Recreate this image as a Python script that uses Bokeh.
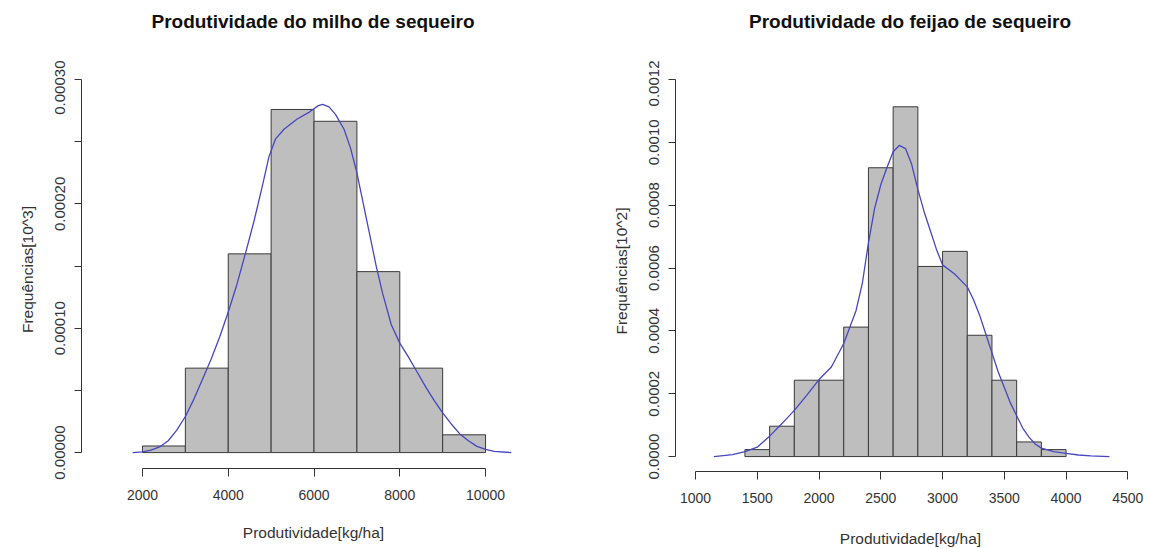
from bokeh.plotting import figure
from bokeh.layouts import row, column
from bokeh.models import Range1d, FixedTicker, PrintfTickFormatter, Div
from bokeh.embed import file_html
from bokeh.resources import INLINE

# ---- Data: milho (corn) ----
milho_edges = [2000, 3000, 4000, 5000, 6000, 7000, 8000, 9000, 10000]
milho_density = [0.0000053, 0.0000679, 0.0001598, 0.0002759, 0.0002664,
                 0.0001455, 0.0000679, 0.0000143]
milho_kde_x = [1770, 2000, 2200, 2400, 2600, 2800, 3000, 3200, 3400, 3600,
               3800, 4000, 4200, 4400, 4600, 4800, 4950, 5100, 5300, 5600,
               5900, 6100, 6200, 6350, 6500, 6700, 6850, 7000, 7150, 7300,
               7450, 7600, 7800, 8000, 8200, 8400, 8600, 8800, 9000, 9200,
               9400, 9600, 9800, 10000, 10200, 10600]
milho_kde_y = [0.0, 0.0000005, 0.000002, 0.0000045, 0.0000095, 0.000018,
               0.000029, 0.000043, 0.000059, 0.000075, 0.000093, 0.000113,
               0.000135, 0.00016, 0.000186, 0.000215, 0.000238, 0.000252,
               0.00026, 0.000268, 0.000274, 0.000279, 0.00028, 0.000278,
               0.000272, 0.00026, 0.000245, 0.000225, 0.0002, 0.000175,
               0.00015, 0.000128, 0.000103, 0.000088, 0.000077, 0.000065,
               0.000053, 0.000042, 0.000032, 0.000023, 0.000015, 0.0000095,
               0.000005, 0.0000025, 0.000001, 0.0]
milho_xticks = [2000, 4000, 6000, 8000, 10000]
milho_yticks = [0.0, 0.0001, 0.0002, 0.0003]
milho_yminor = [0.00005, 0.00015, 0.00025]

# ---- Data: feijao (beans) ----
feijao_edges = [1400, 1600, 1800, 2000, 2200, 2400, 2600, 2800, 3000, 3200,
                3400, 3600, 3800, 4000]
feijao_density = [0.0000222, 0.0000966, 0.000243, 0.000243, 0.000412,
                  0.000919, 0.001113, 0.000605, 0.000653, 0.000386,
                  0.000243, 0.0000466, 0.0000222]
feijao_kde_x = [1149, 1300, 1400, 1500, 1600, 1700, 1800, 1900, 2000, 2100,
                2200, 2300, 2350, 2400, 2450, 2500, 2550, 2600, 2650, 2700,
                2750, 2800, 2850, 2900, 2950, 3000, 3050, 3100, 3150, 3200,
                3250, 3300, 3350, 3400, 3450, 3500, 3550, 3600, 3650, 3700,
                3750, 3800, 3900, 4000, 4100, 4200, 4351]
feijao_kde_y = [0.0, 0.000006, 0.000016, 0.00003, 0.000065, 0.000105,
                0.000147, 0.000195, 0.000245, 0.000285, 0.00036, 0.000465,
                0.00055, 0.00068, 0.00079, 0.000865, 0.00092, 0.00097,
                0.00099, 0.00098, 0.00093, 0.00085, 0.00078, 0.00072,
                0.00066, 0.00061, 0.000595, 0.00058, 0.00056, 0.00054,
                0.0005, 0.00045, 0.00039, 0.00033, 0.00027, 0.00022,
                0.00017, 0.00013, 0.00009, 0.000062, 0.00004, 0.000027,
                0.000016, 0.00001, 0.000005, 0.000002, 0.0]
feijao_xticks = [1000, 1500, 2000, 2500, 3000, 3500, 4000, 4500]
feijao_yticks = [0.0, 0.0002, 0.0004, 0.0006, 0.0008, 0.0010, 0.0012]

FONT = "Liberation Sans"
TXT = "#333333"
BAR_FILL = "#BEBEBE"
BAR_LINE = "#3a3a3a"
CURVE = "#4646c0"
HEIGHT = 549
TITLE_H = 60       # height of the title strip
FIG_TOP = 10       # border above the frame inside the figure
FRAME_TOP = TITLE_H + FIG_TOP
TICK_TOP_Y = 79    # pixel row of the highest y tick


def make_panel(title, edges, dens, kx, ky, xticks, yticks, yminor, yfmt,
               xr, ylow, ylabel, width, mb_left, mb_right, mb_bottom,
               xlabel_standoff):
    bottom_px = HEIGHT - mb_bottom
    per_px = (yticks[-1] - ylow) / (bottom_px - TICK_TOP_Y)
    yend = yticks[-1] + (TICK_TOP_Y - FRAME_TOP) * per_px

    p = figure(width=width, height=HEIGHT - TITLE_H, x_range=Range1d(*xr),
               y_range=Range1d(ylow, yend), output_backend="svg",
               toolbar_location=None, min_border_left=mb_left,
               min_border_right=mb_right, min_border_top=FIG_TOP,
               min_border_bottom=mb_bottom)
    p.outline_line_color = None
    p.grid.visible = False
    p.background_fill_color = "white"
    p.border_fill_color = "white"

    p.quad(left=edges[:-1], right=edges[1:], bottom=0, top=dens,
           fill_color=BAR_FILL, line_color=BAR_LINE, line_width=1)
    p.line(kx, ky, line_color=CURVE, line_width=1.3)

    for ax in (p.xaxis[0], p.yaxis[0]):
        ax.axis_line_color = TXT
        ax.major_tick_line_color = TXT
        ax.minor_tick_line_color = TXT
        ax.major_tick_in = 0
        ax.minor_tick_in = 0
        ax.major_label_text_font = FONT
        ax.major_label_text_color = TXT
        ax.axis_label_text_font = FONT
        ax.axis_label_text_font_size = "15.5px"
        ax.axis_label_text_font_style = "normal"
        ax.axis_label_text_color = TXT

    xa = p.xaxis[0]
    xa.ticker = FixedTicker(ticks=xticks)
    xa.bounds = (xticks[0], xticks[-1])
    xa.major_tick_out = 8
    xa.minor_tick_out = 0
    xa.major_label_text_font_size = "14px"
    xa.major_label_standoff = 13
    xa.axis_label = "Produtividade[kg/ha]"
    xa.axis_label_standoff = xlabel_standoff

    ya = p.yaxis[0]
    ya.ticker = FixedTicker(ticks=yticks, minor_ticks=yminor)
    ya.bounds = (yticks[0], yticks[-1])
    ya.major_tick_out = 7
    ya.minor_tick_out = 7
    ya.major_label_text_font_size = "15px"
    ya.major_label_orientation = "vertical"
    ya.major_label_standoff = 9
    ya.formatter = PrintfTickFormatter(format=yfmt)
    ya.axis_label = ylabel
    ya.axis_label_standoff = 17

    frame_w = width - mb_left - mb_right
    head = Div(text=title, width=frame_w, height=TITLE_H,
               margin=(0, mb_right, 0, mb_left),
               styles={"font-family": FONT, "font-size": "19px",
                       "font-weight": "bold", "color": "#111111",
                       "text-align": "center", "line-height": "44px",
                       "white-space": "nowrap"})
    return column(head, p, spacing=0)


p1 = make_panel("Produtividade do milho de sequeiro", milho_edges,
                milho_density, milho_kde_x, milho_kde_y, milho_xticks,
                milho_yticks, milho_yminor, "%.5f",
                (578, 11398), -0.0000128, "Frequências[10^3]",
                574, 81, 29, 81, 21)
p2 = make_panel("Produtividade do feijao de sequeiro", feijao_edges,
                feijao_density, feijao_kde_x, feijao_kde_y, feijao_xticks,
                feijao_yticks, [], "%.4f",
                (838, 4643), -0.0000475, "Frequências[10^2]",
                575, 101, 4, 76, 24)

layout = row(p1, p2, spacing=0)
open("out.html", "w").write(file_html(layout, INLINE))
